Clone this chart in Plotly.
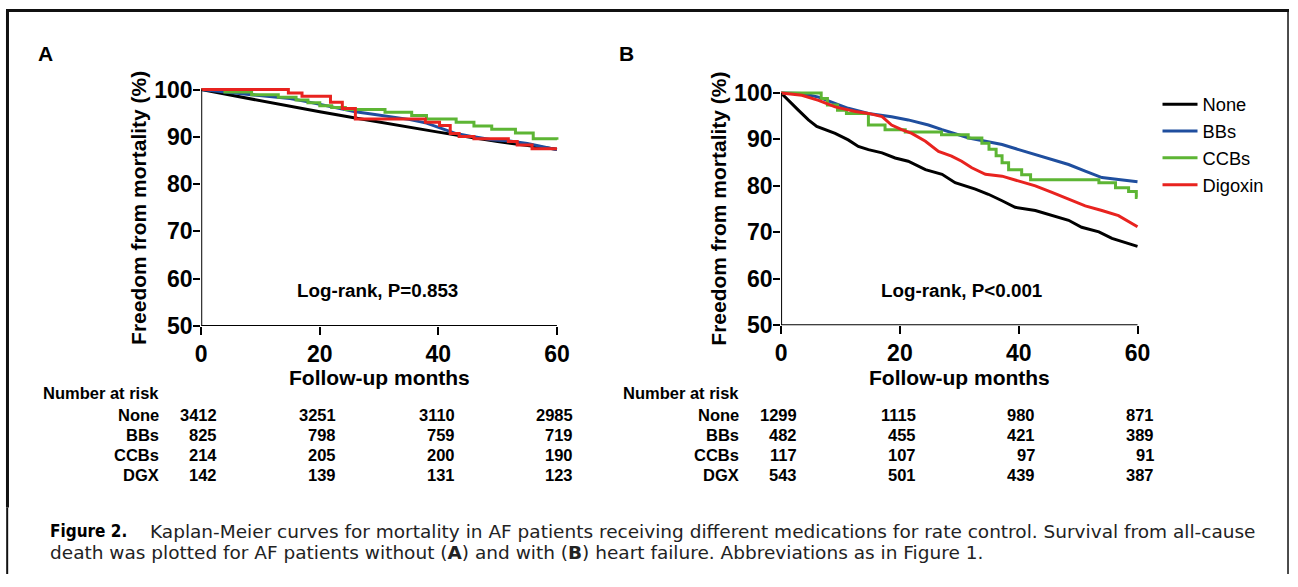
import plotly.graph_objects as go

W, H = 1298, 587

# ---------------- data ----------------
groups = ["None", "BBs", "CCBs", "Digoxin"]
risk_labels = ["None", "BBs", "CCBs", "DGX"]
risk_months = [0, 20, 40, 60]
colors = {"None": "#000000", "BBs": "#1f4e9e", "CCBs": "#5db534", "Digoxin": "#e8231f"}

# Panel A (without heart failure)
A_none_t = [0, 10, 20, 26, 30, 40, 43, 50, 60]
A_none_s = [100, 97.6, 95.3, 94.0, 93.1, 91.0, 90.4, 89.0, 87.4]
A_bbs_t = [0, 3, 6, 9, 12, 15, 18, 20, 23, 26, 29, 32, 35, 38, 41, 43, 46, 49, 52, 55, 58, 60]
A_bbs_s = [100, 99.6, 99.2, 98.8, 98.5, 98.1, 97.4, 96.9, 96.2, 95.3, 94.8, 94.2, 93.7, 92.9, 91.6, 90.7, 90.0, 89.4, 89.1, 88.6, 87.8, 87.3]
A_ccb_t = [0, 4, 8.5, 13, 16, 18, 20, 22, 24.3, 31, 35.5, 38, 43, 46, 49, 53, 56, 60]
A_ccb_s = [100, 99.5, 98.9, 98.4, 97.8, 97.2, 96.6, 96.2, 95.8, 95.2, 94.5, 93.8, 93.1, 92.3, 91.6, 90.8, 89.6, 89.4]
A_dgx_t = [0, 14.7, 17, 21.8, 23.8, 26, 37.8, 40.2, 42, 43.5, 46, 51.8, 53.3, 55.8, 60]
A_dgx_s = [100, 99.3, 98.6, 97.3, 96.0, 93.8, 93.1, 92.4, 90.7, 90.1, 89.6, 89.0, 88.3, 87.5, 87.5]

# Panel B (with heart failure)
B_none_t = [0, 1.2, 2.9, 4.6, 6.0, 9.1, 11.3, 13.0, 14.7, 17.0, 19.2, 21.4, 24.3, 27.1, 29.3, 32.7, 34.9, 37.2, 39.4, 42.8, 45.6, 48.4, 50.6, 53.5, 55.7, 57.9, 60]
B_none_s = [100, 98.4, 96.3, 94.2, 92.8, 91.3, 89.9, 88.5, 87.8, 87.1, 86.0, 85.3, 83.5, 82.5, 80.7, 79.3, 78.2, 76.8, 75.4, 74.7, 73.6, 72.6, 71.1, 70.1, 68.7, 67.9, 67.0]
B_bbs_t = [0, 3.5, 6.3, 9.1, 11.3, 14.7, 18.6, 21.4, 24.8, 27.1, 31.6, 34.4, 37.2, 40.0, 42.8, 45.6, 48.4, 51.2, 54.0, 56.8, 60]
B_bbs_s = [100, 99.9, 99.1, 97.7, 96.7, 95.6, 94.9, 94.2, 93.1, 92.1, 90.3, 89.6, 88.9, 87.8, 86.7, 85.7, 84.6, 83.2, 81.8, 81.4, 80.9]
B_ccb_t = [0, 6.75, 7.8, 9.5, 11, 14.7, 17.5, 20.9, 27, 31.5, 33.8, 35, 36.2, 37.2, 38.3, 40.5, 42, 53.5, 56.3, 58.5, 59.8, 60]
B_ccb_s = [100, 98.8, 97.4, 96.3, 95.6, 93.1, 92.1, 91.6, 91.0, 90.3, 89.2, 87.9, 86.5, 85.0, 83.5, 82.4, 81.3, 80.7, 79.6, 78.8, 77.5, 77.5]
B_dgx_t = [0, 3.5, 6.3, 9.1, 12.5, 14.7, 17.0, 18.6, 20.3, 22.0, 24.3, 26.5, 28.7, 30.4, 32.1, 34.4, 37.2, 40.0, 42.8, 45.6, 48.4, 51.2, 54.0, 56.8, 60]
B_dgx_s = [100, 99.5, 98.4, 97.0, 96.0, 95.6, 94.9, 93.1, 92.1, 91.3, 89.6, 87.4, 86.4, 85.3, 83.9, 82.5, 82.1, 81.1, 80.0, 78.6, 77.2, 75.7, 74.7, 73.6, 71.2]

A_risk = {"None": [3412, 3251, 3110, 2985], "BBs": [825, 798, 759, 719],
          "CCBs": [214, 205, 200, 190], "DGX": [142, 139, 131, 123]}
B_risk = {"None": [1299, 1115, 980, 871], "BBs": [482, 455, 421, 389],
          "CCBs": [117, 107, 97, 91], "DGX": [543, 501, 439, 387]}

pA = "Log-rank, P=0.853"
pB = "Log-rank, P<0.001"
caption1 = "Kaplan-Meier curves for mortality in AF patients receiving different medications for rate control. Survival from all-cause"
caption2 = "death was plotted for AF patients without (<b>A</b>) and with (<b>B</b>) heart failure. Abbreviations as in Figure 1."

# ---------------- layout helpers ----------------
# the photographed page carries a small white border; positions below are
# expressed in target-picture pixels and converted to page pixels
SX, SY = W / (W + 16), H / (H + 16)
OX, OY = 8 * SX, 8 * SY

def fx(x):      # picture px -> page px
    return (x - OX) / SX

def fy(y):
    return (y - OY) / SY

def px(x):      # page px -> paper fraction
    return x / W

def py(y):
    return 1 - y / H

FONT = "Liberation Sans, Arial, sans-serif"

fig = go.Figure()

panelA = [("None", A_none_t, A_none_s, "linear"), ("BBs", A_bbs_t, A_bbs_s, "linear"),
          ("CCBs", A_ccb_t, A_ccb_s, "hv"), ("Digoxin", A_dgx_t, A_dgx_s, "hv")]
panelB = [("None", B_none_t, B_none_s, "linear"), ("BBs", B_bbs_t, B_bbs_s, "linear"),
          ("CCBs", B_ccb_t, B_ccb_s, "hv"), ("Digoxin", B_dgx_t, B_dgx_s, "linear")]

for name, t, s, shp in panelA:
    fig.add_trace(go.Scatter(x=t, y=s, mode="lines", name=name, showlegend=False,
                             line=dict(color=colors[name], width=3, shape=shp),
                             xaxis="x", yaxis="y"))
for name, t, s, shp in panelB:
    fig.add_trace(go.Scatter(x=t, y=s, mode="lines", name=name, showlegend=True,
                             line=dict(color=colors[name], width=3, shape=shp),
                             xaxis="x2", yaxis="y2"))

# axis geometry (picture pixels of 0/60 months and 50/100 %)
geo = {
    "A": dict(x0=fx(203), x60=fx(558.5), y50=fy(328.3), y100=fy(89.3)),
    "B": dict(x0=fx(782.5), x60=fx(1138.7), y50=fy(327.7), y100=fy(92.7)),
}

def xdom(g):
    per = (g["x60"] - g["x0"]) / 60
    return [px(g["x0"]), px(g["x60"] + 0.6 * per)]

def ydom(g):
    per = (g["y50"] - g["y100"]) / 50
    return [py(g["y50"]), py(g["y100"] - 0.8 * per)]

tickfont = dict(family=FONT, size=23, color="black", weight="bold")
common_x = dict(range=[0, 60.6], tickvals=[0, 20, 40, 60], ticks="outside", ticklen=8,
                tickwidth=2, tickcolor="black", showline=False, showgrid=False,
                zeroline=False, tickfont=tickfont, fixedrange=True, ticklabelstandoff=-1)
common_y = dict(range=[50, 100.8], tickvals=[50, 60, 70, 80, 90, 100], ticks="outside",
                ticklen=7, tickwidth=2, tickcolor="black", showline=False, showgrid=False,
                zeroline=False, tickfont=tickfont, fixedrange=True, ticklabelstandoff=-4)

fig.update_layout(
    width=W, height=H, margin=dict(l=0, r=0, t=0, b=0),
    paper_bgcolor="white", plot_bgcolor="rgba(0,0,0,0)",
    xaxis=dict(domain=xdom(geo["A"]), anchor="y", **common_x),
    yaxis=dict(domain=ydom(geo["A"]), anchor="x", **common_y),
    xaxis2=dict(domain=xdom(geo["B"]), anchor="y2", **common_x),
    yaxis2=dict(domain=ydom(geo["B"]), anchor="x2", **common_y),
    legend=dict(x=px(fx(1166) - 7.4), y=py(fy(105) - 20), xanchor="left", yanchor="top",
                font=dict(family=FONT, size=18.3, color="black"),
                bgcolor="rgba(0,0,0,0)", itemwidth=35, tracegroupgap=0),
)

shapes = []
# axis lines through data coordinates
for xr, yr in [("x", "y"), ("x2", "y2")]:
    shapes.append(dict(type="line", xref=xr, yref=yr, x0=0, x1=0, y0=50, y1=100,
                       line=dict(color="black", width=2)))
    shapes.append(dict(type="line", xref=xr, yref=yr, x0=0, x1=60, y0=50, y1=50,
                       line=dict(color="black", width=2)))
# frame (as close to the picture edge as the page allows)
shapes.append(dict(type="line", xref="paper", yref="paper", x0=0, x1=1, y0=py(1.5), y1=py(1.5),
                   line=dict(color="#111", width=3)))
shapes.append(dict(type="line", xref="paper", yref="paper", x0=px(1.5), x1=px(1.5), y0=py(1.5), y1=py(fy(512)),
                   line=dict(color="#111", width=3)))
shapes.append(dict(type="line", xref="paper", yref="paper", x0=px(1.2), x1=px(1.2), y0=py(fy(512)), y1=0,
                   line=dict(color="#111", width=2)))
shapes.append(dict(type="line", xref="paper", yref="paper", x0=px(1297), x1=px(1297), y0=py(1.5), y1=0,
                   line=dict(color="#111", width=1.5)))
fig.update_layout(shapes=shapes)

ann = []
def A(**k):
    base = dict(showarrow=False, xanchor="center", yanchor="middle",
                font=dict(family=FONT, size=16.5, color="black"))
    base.update(k)
    ann.append(base)

RISE = 3  # annotations sit a little high; nudge down (picture px)

# panel letters
A(text="<b>A</b>", xref="paper", yref="paper", x=px(fx(47)), y=py(fy(50 + RISE)),
  font=dict(family=FONT, size=21, color="black"))
A(text="<b>B</b>", xref="paper", yref="paper", x=px(fx(628)), y=py(fy(50 + RISE)),
  font=dict(family=FONT, size=21, color="black"))

titles_x = {"A": 141, "B": 720}
for key, xr, yr, ptxt, risk in [("A", "x", "y", pA, A_risk), ("B", "x2", "y2", pB, B_risk)]:
    g = geo[key]
    # y title
    A(text="<b>Freedom from mortality (%)</b>", xref="paper", yref="paper",
      x=px(fx(titles_x[key])), y=py((g["y50"] + g["y100"]) / 2), textangle=-90,
      font=dict(family=FONT, size=21, color="black"))
    # x title
    A(text="<b>Follow-up months</b>", xref=xr, yref="paper", x=30, y=py(fy(377 + RISE)),
      font=dict(family=FONT, size=21, color="black"))
    # log-rank
    A(text="<b>" + ptxt + "</b>", xref=xr, yref=yr, x=29.8 if key == "A" else 30.4, y=57.8,
      yshift=-1, font=dict(family=FONT, size=18.8, color="black"))
    # risk table
    A(text="<b>Number at risk</b>", xref=xr, yref="paper", x=0, xanchor="left", xshift=-160,
      y=py(fy(393 + RISE)))
    row_y = [415.5, 435.5, 455.5, 476]
    for lab, ry in zip(risk_labels, row_y):
        A(text="<b>" + lab + "</b>", xref=xr, yref="paper", x=0, xanchor="right", xshift=-40.5,
          y=py(fy(ry + RISE)))
        for m, v in zip(risk_months, risk[lab]):
            A(text="<b>" + str(v) + "</b>", xref=xr, yref="paper", x=m, xanchor="right", xshift=18.2,
              y=py(fy(ry + RISE)))

# caption
A(text="<b>Figure 2.</b>", xref="paper", yref="paper", x=px(fx(50)), xanchor="left", y=py(fy(533 + RISE)),
  font=dict(family="Liberation Sans Narrow, DejaVu Sans Condensed, sans-serif", size=17, color="black"))
A(text=caption1, xref="paper", yref="paper", x=px(fx(150)), xanchor="left", y=py(fy(533 + RISE)),
  font=dict(family="DejaVu Sans, sans-serif", size=18.5, color="#222"))
A(text=caption2, xref="paper", yref="paper", x=px(fx(50)), xanchor="left", y=py(fy(554 + RISE)),
  font=dict(family="DejaVu Sans, sans-serif", size=18.5, color="#222"))

fig.update_layout(annotations=ann)
post = ("document.documentElement.style.margin='0';document.documentElement.style.padding='0';"
        "document.documentElement.style.overflow='hidden';"
        "document.body.style.margin='0';document.body.style.padding='0';document.body.style.overflow='hidden';"
        "var gd=document.getElementById('{plot_id}');gd.style.position='absolute';"
        "gd.style.left='0px';gd.style.top='0px';")
fig.write_html("out.html", config={"displayModeBar": False}, post_script=post)
